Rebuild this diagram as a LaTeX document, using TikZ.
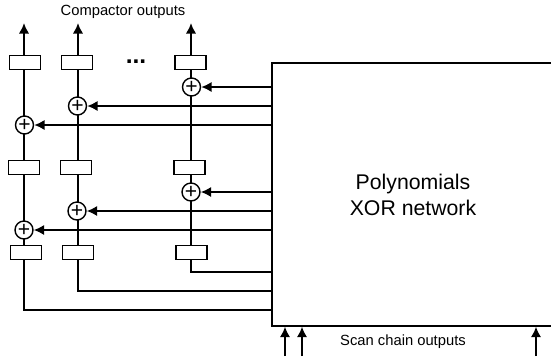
\documentclass[tikz,border=0pt]{standalone}
\usepackage{fontspec}
\setmainfont{Liberation Sans}
\usetikzlibrary{arrows.meta}
\tikzset{
  reg/.style={draw, line width=0.8pt, fill=white, minimum width=0.62cm, minimum height=0.29cm, inner sep=0pt},
  xorgate/.style={draw, circle, line width=0.8pt, fill=white, minimum size=0.36cm, inner sep=0pt, font=\fontsize{12pt}{12pt}\selectfont},
  bus/.style={line width=1.2pt},
  arr/.style={line width=1.2pt, -{Latex[length=6pt,width=6pt]}},
  thinlabel/.style={font=\fontsize{8.4pt}{10pt}\selectfont, inner sep=0pt}
}
\begin{document}
\begin{tikzpicture}[x=0.02cm,y=-0.02cm]
\useasboundingbox (0,0) rectangle (551,360);
\node[draw, line width=0.8pt, minimum width=5.64cm, minimum height=5.26cm, inner sep=0pt, align=center, font=\fontsize{12.1pt}{14.7pt}\selectfont] (net) at (413,194.5) {Polynomials\\XOR network};

\coordinate (outa) at (24,23);
\coordinate (outb) at (78,23);
\coordinate (outc) at (191,23);
\node[reg] (rega1) at (25,62.5) {};
\node[reg] (regb1) at (77,62.5) {};
\node[reg] (regc1) at (190.5,62.5) {};
\node[reg] (rega2) at (24,167.5) {};
\node[reg] (regb2) at (76,167.5) {};
\node[reg] (regc2) at (189.5,167.5) {};
\node[reg] (rega3) at (26,252.5) {};
\node[reg] (regb3) at (78,252.5) {};
\node[reg] (regc3) at (191.5,252.5) {};
\coordinate (enda) at (24,310);
\coordinate (endb) at (78,291);
\coordinate (endc) at (191,272);

\draw[arr] (rega1.north -| outa) -- (outa);
\draw[arr] (regb1.north -| outb) -- (outb);
\draw[arr] (regc1.north -| outc) -- (outc);
\draw[bus] (rega1.south -| outa) -- (rega2.north -| outa);
\draw[bus] (regb1.south -| outb) -- (regb2.north -| outb);
\draw[bus] (regc1.south -| outc) -- (regc2.north -| outc);
\draw[bus] (rega2.south -| outa) -- (rega3.north -| outa);
\draw[bus] (regb2.south -| outb) -- (regb3.north -| outb);
\draw[bus] (regc2.south -| outc) -- (regc3.north -| outc);

\node[xorgate] (xa1) at (24.5,125) {+};
\node[xorgate] (xb1) at (77.5,106) {+};
\node[xorgate] (xc1) at (191.5,87) {+};
\node[xorgate] (xa2) at (24,230) {+};
\node[xorgate] (xb2) at (77,211) {+};
\node[xorgate] (xc2) at (191,192) {+};

\foreach \g in {xa1,xb1,xc1,xa2,xb2,xc2}
  \draw[arr] (net.west |- \g) -- (\g);

\draw[bus] (rega3.south -| enda) -- (enda) -- (net.west |- enda);
\draw[bus] (regb3.south -| endb) -- (endb) -- (net.west |- endb);
\draw[bus] (regc3.south -| endc) -- (endc) -- (net.west |- endc);

\coordinate (ina) at (285,356);
\coordinate (inb) at (302,356);
\coordinate (inc) at (536,356);
\draw[arr] (ina) -- (ina |- net.south);
\draw[arr] (inb) -- (inb |- net.south);
\draw[arr] (inc) -- (inc |- net.south);

\node[thinlabel] (top) at (123,12) {Compactor outputs};
\node[thinlabel] (bottom) at (403,342) {Scan chain outputs};
\node[font=\fontsize{14pt}{14pt}\selectfont\bfseries, inner sep=0pt] (dots) at (136,61.5) {...};
\end{tikzpicture}
\end{document}
